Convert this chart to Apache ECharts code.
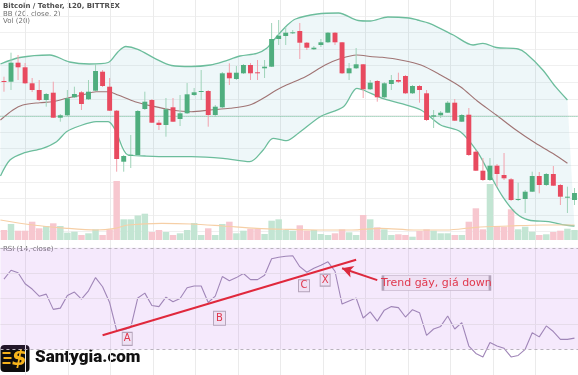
<!DOCTYPE html>
<html><head><meta charset="utf-8">
<script src="https://cdn.jsdelivr.net/npm/echarts@6/dist/echarts.min.js"></script>
<style>html,body{margin:0;padding:0;background:#fff}#c{width:578px;height:375px}</style>
</head><body><div id="c"></div>
<script>
// candles: [open, close, low, high]
const ohlc = [
[169,168,158.3,173.3],[168.3,187.3,160,197.3],[187.3,182.7,170,195],[182.7,166.7,166,187],[166.7,160,158,172],
[160,150,149,170],[150,156,143.3,157],[157.3,132.3,132,168.3],[132.3,134.7,128.3,136],[134.7,151.7,134,160],
[152.7,156,152,163.3],[157.7,146,140,159],[150.7,158.3,150,170],[159.3,179,159,186],[178.3,164,163,180],
[163.3,139.3,139,172],[139.3,91,78.3,140],[88.3,94,78.3,95],[94.5,95.3,82,115],[95,139,94.5,140],
[141,148.3,140,158.3],[150,127.3,127,151],[127.3,125,120,130],[125,140.7,113.3,152],[142.7,128.3,128,152],
[131,136.7,124,155],[136.7,155.7,136,167],[155,157.7,154,162],[158.5,159,150,180],[159,135,123.3,160],
[135,143.3,133,145],[142.7,176.7,142,178],[177.3,171.7,165,186.7],[171,177.3,170,184],[176.7,185,176,186],
[185,176.7,170,187],[177.7,177,170,190],[181.7,183.3,172,190],[183.3,211,183,227],[211,214.3,205,230],
[214,217.3,205,223],[217.4,217.7,216,220],[219,207.3,191,227],[207.3,202.3,200,208],[200.7,202.3,200,204],
[205,207.7,203,211],[207.7,217.3,207,218],[217.3,207.7,205,218],[207.7,176.7,176,208],[176.7,181.7,170,187],
[181.7,185.7,181,202],[185.7,160.7,152,186],[160.7,167.3,160,170],[169,152.7,148.3,170],[152.7,166.7,152,168],
[166,170,160,175],[170,168.3,167,177.3],[174,156.7,156,175],[156.7,164,156,165],[164,160,147.3,165],
[156.7,130,129,160],[133.3,134.7,122,140],[134.7,137.3,132,139],[137.3,147.3,137,149],[147.3,129.3,129,151],
[128.3,135,128,136],[135.3,95,94,142],[98.3,79.3,79,100],[79.3,70,69,92],[70,84.3,69,92],
[84.3,76,63.3,86],[75,71.7,70,97],[70.7,50,49,72],[50,51,49,67.3],[51,58.3,37,60],
[58.3,74,58,78.3],[74,65,56.7,78],[65,76,64,77],[76,64.3,64,84],[65,53.3,45,66],
[53,53.3,37,63.3],[50,57,45,62]
];
const volumes = [10,16,9.3,9.3,18.3,11.7,14,16.7,14,7.3,8.3,5,6.7,10.7,5,10.7,59,20.7,20.7,24.5,
26.3,8,10,8,5,6.7,10,17,5,11.7,5,16,18.3,6.7,9.3,11.3,11.3,6,19.3,20.7,
10,9.3,14.7,9.3,10,6,5,6.7,10.7,7.7,5,25,20.7,12.7,10.7,5,5.7,5,3.3,9,
10.7,9.3,6.7,6.7,5,5,18.3,31.7,10.7,56,14,13.3,30.7,10.7,13.3,8.3,5,5.7,8,9.3,11.3,10];
const rsi = [57.7,61.2,60.2,55.9,53.8,51.0,51.8,45.8,46.3,51.3,52.6,49.8,53.1,58.3,54.7,48.5,37.5,37.8,38.7,50.3,
52.2,47.3,46.9,50.6,48.8,50.1,54.3,55.0,55.0,48.5,51.0,58.7,57.1,58.3,59.9,57.5,57.5,59.2,65.7,66.3,
66.7,66.9,62.6,60.4,62.0,63.2,64.5,60.8,47.9,49.1,50.3,42.4,44.8,41.2,45.5,46.9,46.5,42.8,45.7,44.5,
35.6,38.1,39.1,43.2,38.1,40.6,31.4,28.5,27.1,32.8,31.4,30.5,27.1,27.7,30.1,36.6,35.0,39.3,37.1,34.0,34.0,34.5];
// Bollinger bands: [candle index, value]
const bbUpper = [[-0.5,186],[2.25,192.5],[6.5,195],[9.3,188],[12.1,186],[14.8,187.5],[16.2,198.3],[17.3,203.5],
[19,200.7],[21.4,191.7],[23.8,184.5],[26.6,183.5],[29.3,185],[31.1,188.3],[33.5,194],[35.9,196.7],[37.3,201.7],
[38.7,213.3],[40.1,224],[41.4,231],[44.5,236],[47.5,237],[50.3,229.5],[52,229],[54.5,233],[57.5,232],[58.7,230],
[60.4,226.7],[63.8,215],[66.6,205],[68,206.7],[69.9,202.5],[73,201],[74.1,196.7],[76.5,180],[78.3,163.3],[80,150]];
const bbBasis = [[-0.5,130],[1.27,140],[2.68,145],[5.07,147.3],[6.9,148.3],[8.87,151.7],[11.1,155],[13.1,158.3],
[14.8,158.3],[16.2,155],[18.6,148.3],[21,144],[23.8,140],[26.6,138.3],[29.3,140],[32.1,141.7],[34.9,145],
[36.8,151.7],[38.7,160],[40.1,165],[42.8,173.3],[45.6,185],[47.5,190.7],[50.1,195],[52.3,193.3],[53.7,192.7],
[56.3,190],[59.2,185],[62,175],[64.8,163.3],[67.2,149],[69.9,135],[72.7,120],[75.5,106.7],[77.9,96.7],[80,86.7]];
const bbLower = [[-0.5,74],[0.85,90],[2.68,96.7],[5.5,101.7],[7.46,108.3],[8.87,118.3],[10.7,124],[13.1,128.3],
[14.8,128.3],[15.8,120],[17.6,95],[20,94],[23.2,93.3],[26.6,93.3],[31.1,91.7],[34.9,88.3],[36.8,100],[38.2,111.7],
[40.1,109.3],[41.8,116.7],[44.9,133.3],[48.2,143.3],[50.1,161.7],[51,160],[53.7,151.7],[56.3,146.7],[59.2,140],
[62,125],[64.8,118.3],[67.2,98.3],[68.9,76.7],[70.8,53.3],[72.7,36.7],[74.5,30],[77.3,28.3],[79.7,25],[81,24]];
const volMA = [[-0.5,20],[4.1,15],[8.9,11.7],[13.1,10],[15.8,11.7],[17.6,15],[22.4,16.7],[26.6,16],[31.1,14],
[35.9,11.7],[40,10.7],[44.6,10],[49.4,10],[53.5,11.7],[58.2,10],[62.8,10],[67,12.7],[71.7,14],[76.5,15],[81,15]];
const levelLine = 134;
const trendLine = [[14,35.6],[50,65.3]];
const arrowLine = [[53,57.3],[48,62]];
const labelsRSI = [
  {text:'A', at:[17.5,34.2], size:[10,13]},
  {text:'B', at:[30.6,42.3], size:[12,14]},
  {text:'C', at:[42.6,55.1], size:[11,12]},
  {text:'X', at:[45.6,57.3], size:[10,12]},
  {text:'Trend gãy, giá down', at:[61.4,56.2], size:[107,15]}
];
const categories = ohlc.map((d,i)=>String(i));

const UP='#4fae7e', DOWN='#e84a5f', UPW='#9fd3b9', DOWNW='#f2a2ad';
const chart = echarts.init(document.getElementById('c'));
const hidden = {show:false};
const gridAxisStyle = {axisLine:hidden, axisTick:hidden, axisLabel:hidden};
chart.setOption({
  animation:false,
  backgroundColor:'#ffffff',
  grid:[
    {left:0.45, right:-4.65, top:0, bottom:135},
    {left:0.45, right:-4.65, top:241.5, bottom:-9.2},
    {left:25.3, right:-1.1, top:0, bottom:0},
    {left:0, right:0, top:15.9, bottom:143.3}
  ],
  xAxis:[
    {type:'category', gridIndex:0, data:categories, boundaryGap:true, show:false},
    {type:'value', gridIndex:0, min:-0.5, max:81.5, show:false},
    {type:'value', gridIndex:1, min:-0.5, max:81.5, show:false},
    Object.assign({type:'value', gridIndex:2, min:0, max:13, interval:1, splitLine:{show:true, lineStyle:{color:'#ebebeb', width:1}}}, gridAxisStyle),
    {type:'value', gridIndex:3, min:0, max:1, show:false}
  ],
  yAxis:[
    {type:'value', gridIndex:0, min:10, max:250, show:false},
    {type:'value', gridIndex:0, min:0, max:240, show:false},
    {type:'value', gridIndex:1, min:20, max:72.5, show:false},
    {type:'value', gridIndex:2, min:0, max:1, show:false},
    Object.assign({type:'value', gridIndex:3, min:0, max:13, interval:1, splitLine:{show:true, lineStyle:{color:'#f0f0f0', width:1}}}, gridAxisStyle)
  ],
  series:[
    {type:'custom', name:'bandFill', xAxisIndex:1, yAxisIndex:0, data:[[0,0]], silent:true, z:1, clip:true,
      renderItem:(params, api)=>{
        if (params.dataIndex!==0) return;
        const pts = bbUpper.map(p=>api.coord(p)).concat(bbLower.slice().reverse().map(p=>api.coord(p)));
        return {type:'polygon', shape:{points:pts}, style:{fill:'rgba(70,165,190,0.09)'}};
      }},
    {type:'line', name:'upper', xAxisIndex:1, yAxisIndex:0, data:bbUpper, smooth:0.3, symbol:'none', z:2,
      lineStyle:{color:'#6cbd9c', width:1.3}},
    {type:'line', name:'basis', xAxisIndex:1, yAxisIndex:0, data:bbBasis, smooth:0.3, symbol:'none', z:2,
      lineStyle:{color:'#a07474', width:1.1}},
    {type:'line', name:'lower', xAxisIndex:1, yAxisIndex:0, data:bbLower, smooth:0.3, symbol:'none', z:2,
      lineStyle:{color:'#6cbd9c', width:1.3},
      markLine:{silent:true, symbol:['none','none'], label:{show:false},
        lineStyle:{color:'#72bb98', type:'dotted', width:1}, data:[{yAxis:levelLine}]}},
    {type:'bar', name:'volume', xAxisIndex:0, yAxisIndex:1, barCategoryGap:'8%', z:2,
      data:volumes.map((v,i)=>({value:v, itemStyle:{color: ohlc[i][1]>=ohlc[i][0] ? '#c3e5d3' : '#f7c7cf'}}))},
    {type:'line', name:'volMA', xAxisIndex:1, yAxisIndex:1, data:volMA, smooth:0.3, symbol:'none', z:3,
      lineStyle:{color:'#f6cfa6', width:1.2}},
    {type:'custom', name:'candles', xAxisIndex:0, yAxisIndex:0, z:5, clip:true,
      data:ohlc.map((d,i)=>[i,d[0],d[1],d[2],d[3]]),
      encode:{x:0, y:[1,2,3,4]},
      renderItem:(params, api)=>{
        const i=api.value(0), o=api.value(1), c=api.value(2), l=api.value(3), h=api.value(4);
        const pO=api.coord([i,o]), pC=api.coord([i,c]), pL=api.coord([i,l]), pH=api.coord([i,h]);
        const w=api.size([1,0])[0]*0.7;
        const up=c>=o;
        const top=Math.min(pO[1],pC[1]);
        const hgt=Math.max(Math.abs(pO[1]-pC[1]),1);
        return {type:'group', children:[
          {type:'line', shape:{x1:pH[0], y1:pH[1], x2:pL[0], y2:pL[1]}, style:{stroke: up?UPW:DOWNW, lineWidth:1}},
          {type:'rect', shape:{x:pO[0]-w/2, y:top, width:w, height:hgt}, style:{fill: up?UP:DOWN}}
        ]};
      }},
    {type:'line', name:'RSI', xAxisIndex:2, yAxisIndex:2, data:rsi.map((v,i)=>[i,v]), symbol:'none', z:4,
      lineStyle:{color:'#a086b8', width:1.1},
      markArea:{silent:true, itemStyle:{color:'rgba(175,88,228,0.13)'}, data:[[{yAxis:30},{yAxis:70}]]},
      markLine:{silent:true, symbol:['none','none'], label:{show:false}, animation:false,
        data:[
          {yAxis:70, lineStyle:{color:'#b9b3bd', type:[3,3], width:1}},
          {yAxis:30, lineStyle:{color:'#b9b3bd', type:[3,3], width:1}},
          {yAxis:40, lineStyle:{color:'#e6dcea', type:'solid', width:1}},
          {yAxis:50, lineStyle:{color:'#e6dcea', type:'solid', width:1}},
          {yAxis:60, lineStyle:{color:'#e6dcea', type:'solid', width:1}},
          [{coord:trendLine[0], lineStyle:{color:'#e0283c', width:2, type:'solid'}}, {coord:trendLine[1]}],
          [{coord:arrowLine[0], symbol:'none', lineStyle:{color:'#dc2a3e', width:2, type:'solid'}}, {coord:arrowLine[1], symbol:'arrow', symbolSize:[9,11]}]
        ]},
      markPoint:{silent:true, animation:false,
        data:labelsRSI.map(l=>({coord:l.at, symbol:'rect', symbolSize:l.size,
          itemStyle:{color:'#efe1f4', borderColor:'#b3a3b9', borderWidth:1},
          label:{show:true, position:'inside', formatter:l.text, color:'#e0374d', fontSize: l.text.length>1?11:10,
            fontFamily:'DejaVu Sans'}}))}
    }
  ],
  graphic:[
    {type:'text', left:3, top:3, style:{text:'Bitcoin / Tether, 120, BITTREX', fill:'#4d4d4d', font:'bold 7px "DejaVu Sans"'}},
    {type:'text', left:3, top:11, style:{text:'BB (20, close, 2)', fill:'#707070', font:'7px "DejaVu Sans"'}},
    {type:'text', left:3, top:18, style:{text:'Vol (20)', fill:'#707070', font:'7px "DejaVu Sans"'}},
    {type:'text', left:3, top:246, style:{text:'RSI (14, close)', fill:'#707070', font:'7px "DejaVu Sans"'}},
    {type:'group', left:0, top:345, children:[
      {type:'rect', shape:{x:0, y:0, width:29, height:27, r:4}, style:{fill:'#0e0e0e'}},
      {type:'line', shape:{x1:2, y1:8, x2:10, y2:8}, style:{stroke:'#f5b21b', lineWidth:2}},
      {type:'line', shape:{x1:3, y1:13, x2:11, y2:13}, style:{stroke:'#f5b21b', lineWidth:2}},
      {type:'line', shape:{x1:2, y1:18, x2:10, y2:18}, style:{stroke:'#f5b21b', lineWidth:2}},
      {type:'text', x:19, y:14, style:{text:'$', fill:'#f7b51c', font:'italic 900 22px "DejaVu Sans"', align:'center', verticalAlign:'middle'}}
    ]},
    {type:'text', left:35, top:349, style:{text:'Santygia.com', fill:'#111111', font:'900 17px Roboto'}}
  ]
});
</script>
</body></html>
